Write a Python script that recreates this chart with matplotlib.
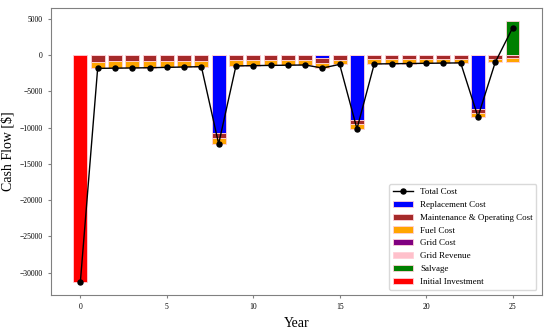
import numpy as np
import matplotlib
matplotlib.use('Agg')
import matplotlib.pyplot as plt

plt.rcParams['font.family'] = ['Liberation Serif', 'DejaVu Serif']

# Cash flows per year [$]
years = np.arange(0, 26)
initial = [-31300] + [0] * 25
replacement = [0, 0, 0, 0, 0, 0, 0, 0, -10700, 0, 0, 0, 0, 0, -450, 0,
               -8930, 0, 0, 0, 0, 0, 0, -7470, 0, 0]
maintenance = [0, -900, -880, -860, -840, -820, -800, -770, -760, -740, -720,
               -700, -690, -670, -650, -630, -610, -600, -590, -570, -560,
               -540, -530, -510, -490, -470]
fuel = [0, -940, -930, -920, -910, -880, -850, -830, -790, -760, -740, -730,
        -710, -700, -690, -660, -640, -630, -610, -600, -580, -570, -550,
        -540, -510, -500]
grid_cost = [0] * 26
grid_revenue = [0] * 26
salvage = [0] * 25 + [4700]

total = (np.array(initial) + np.array(replacement) + np.array(maintenance)
         + np.array(fuel) + np.array(grid_cost) + np.array(grid_revenue)
         + np.array(salvage))

fig = plt.figure(figsize=(5.5, 3.3), dpi=100)
ax = fig.add_axes([0.093, 0.106, 0.892, 0.870])

ec = '#ffd0d8'
lw = 0.6
bottom = np.zeros(26)
ax.bar(years, replacement, color='blue', edgecolor=ec, linewidth=lw, label='Replacement Cost')
bottom = bottom + np.array(replacement)
ax.bar(years, maintenance, bottom=bottom, color='brown', edgecolor=ec, linewidth=lw,
       label='Maintenance & Operating Cost')
bottom = bottom + np.array(maintenance)
ax.bar(years, fuel, bottom=bottom, color='orange', edgecolor=ec, linewidth=lw, label='Fuel Cost')
bottom = bottom + np.array(fuel)
ax.bar(years, grid_cost, bottom=bottom, color='purple', edgecolor=ec, linewidth=lw, label='Grid Cost')
ax.bar(years, grid_revenue, color='pink', edgecolor=ec, linewidth=lw, label='Grid Revenue')
ax.bar(years, salvage, bottom=np.array(grid_revenue), color='green', edgecolor=ec, linewidth=lw,
       label='Salvage')
ax.bar(years, initial, color='red', edgecolor=ec, linewidth=lw, label='Initial Investment')

ax.plot(years, total, color='black', marker='o', markersize=3.6, linewidth=1.0, label='Total Cost')

for s in ax.spines.values():
    s.set_color('#808080')
ax.tick_params(axis='both', labelsize=5.5, colors='#808080', labelcolor='black', length=2.5)
ax.set_xticks([0, 5, 10, 15, 20, 25])
ax.set_xlabel('Year', fontsize=10)
ax.set_ylabel('Cash Flow [$]', fontsize=10)

handles, labels = ax.get_legend_handles_labels()
order = [labels.index('Total Cost')] + [i for i, l in enumerate(labels) if l != 'Total Cost']
leg = ax.legend([handles[i] for i in order], [labels[i] for i in order], loc='lower right',
                fontsize=6.5, handlelength=2.2, labelspacing=0.5, borderaxespad=0.6)
leg.get_frame().set_edgecolor('#d0d0d0')

fig.savefig('out.png', dpi=100)
